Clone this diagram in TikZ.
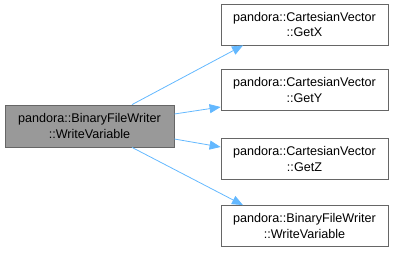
\documentclass[tikz,border=0pt]{standalone}
\usepackage{fontspec}
\setmainfont{Liberation Sans}
\usetikzlibrary{arrows.meta}
\definecolor{edgeblue}{HTML}{63B8FF}
\definecolor{boxline}{HTML}{666666}
\definecolor{curfill}{HTML}{999999}
\tikzset{
  fn/.style={draw=boxline, fill=white, line width=0.8pt, minimum width=167bp, minimum height=41bp,
    align=center, inner sep=0pt, font=\fontsize{12.6bp}{15.5bp}\selectfont},
  cur/.style={fn, fill=curfill, minimum width=169bp, minimum height=42bp},
  call/.style={draw=edgeblue, line width=0.8pt, -{Triangle[width=9bp,length=11bp]}}
}
\begin{document}
\begin{tikzpicture}[x=1bp,y=-1bp]
\useasboundingbox (0,0) rectangle (395,253);
\node[cur] (src) at (89.5,126) {pandora::BinaryFileWriter\\::WriteVariable};
\node[fn] (gx) at (304.5,24.5) {pandora::CartesianVector\\::GetX};
\node[fn] (gy) at (304.5,90) {pandora::CartesianVector\\::GetY};
\node[fn] (gz) at (304.5,159) {pandora::CartesianVector\\::GetZ};
\node[fn] (wv) at (304.5,226) {pandora::BinaryFileWriter\\::WriteVariable};
\draw[call] (src.north -| 132,0) -- (gx.south -| 243,0);
\draw[call] (src.east |- 0,114) -- (gy.west |- 0,107);
\draw[call] (src.east |- 0,139) -- (gz.west |- 0,147);
\draw[call] (src.south -| 132,0) -- (wv.north -| 243,0);
\end{tikzpicture}
\end{document}
